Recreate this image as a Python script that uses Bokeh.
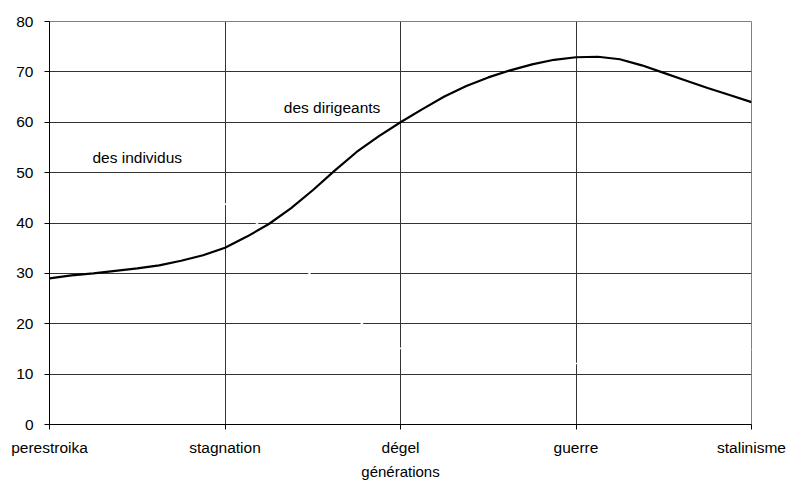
from bokeh.plotting import figure
from bokeh.models import Range1d, FixedTicker
from bokeh.embed import file_html
from bokeh.resources import INLINE
from bokeh.core.properties import value

# Categories on the x axis (générations)
categories = ["perestroika", "stagnation", "dégel", "guerre", "stalinisme"]
y_ticks = [0, 10, 20, 30, 40, 50, 60, 70, 80]

# "des dirigeants" curve (x in category units)
dirigeants_x = [0, 0.125, 0.25, 0.375, 0.5, 0.625, 0.75, 0.875, 1.0, 1.125, 1.25, 1.375,
                1.5, 1.625, 1.75, 1.875, 2.0, 2.125, 2.25, 2.375, 2.5, 2.625, 2.75, 2.875,
                3.0, 3.125, 3.25, 3.375, 3.5, 3.625, 3.75, 3.875, 4.0]
dirigeants_y = [29.0, 29.6, 30.0, 30.5, 31.0, 31.6, 32.5, 33.6, 35.1, 37.3, 39.8, 42.9,
                46.5, 50.4, 54.1, 57.2, 60.0, 62.6, 65.1, 67.2, 68.9, 70.3, 71.5, 72.4,
                72.9, 73.0, 72.5, 71.3, 69.8, 68.3, 66.8, 65.4, 64.0]

# "des individus" curve (drawn in white in the original, only visible over gridlines)
individus_x = [0, 1.0, 1.18, 1.48, 1.78, 2.0, 3.0, 4.0]
individus_y = [46.8, 43.8, 40.0, 30.0, 20.0, 15.1, 12.1, 14.9]

# Series labels
label_text = ["des individus", "des dirigeants"]
label_x = [0.50, 1.61]
label_y = [53.0, 62.9]

FONT = "Liberation Sans"

p = figure(width=787, height=483, output_backend="svg", toolbar_location=None,
           x_range=Range1d(0, 4), y_range=Range1d(0, 80),
           min_border_left=49, min_border_right=36, min_border_top=21, min_border_bottom=59)

p.background_fill_color = "white"
p.border_fill_color = "white"
p.outline_line_color = "#808080"
p.outline_line_width = 1

tick_pos = list(range(len(categories)))
p.xaxis.ticker = FixedTicker(ticks=tick_pos)
p.xaxis.major_label_overrides = {i: c for i, c in enumerate(categories)}
p.yaxis.ticker = FixedTicker(ticks=y_ticks)
p.xgrid.ticker = FixedTicker(ticks=tick_pos)
p.ygrid.ticker = FixedTicker(ticks=y_ticks)

for g in (p.xgrid, p.ygrid):
    g.grid_line_color = "#333333"
    g.grid_line_width = 1

for ax in (p.xaxis, p.yaxis):
    ax.axis_line_color = "black"
    ax.major_tick_line_color = "black"
    ax.major_tick_out = 5
    ax.major_tick_in = 0
    ax.minor_tick_line_color = None
    ax.major_label_text_font = FONT
    ax.major_label_text_font_size = "15.5px"
    ax.major_label_text_color = "black"

p.yaxis.major_label_standoff = 11
p.xaxis.major_label_standoff = 9
p.xaxis.axis_label = "générations"
p.xaxis.axis_label_text_font = FONT
p.xaxis.axis_label_text_font_size = "15px"
p.xaxis.axis_label_text_font_style = "normal"
p.xaxis.axis_label_text_color = "black"
p.xaxis.axis_label_standoff = 4

p.line(individus_x, individus_y, line_color="white", line_width=1.5)
p.line(dirigeants_x, dirigeants_y, line_color="black", line_width=2.2)

p.text(x=label_x, y=label_y, text=label_text, text_font=value(FONT),
       text_font_size="15.5px", text_color="black", text_align="center", text_baseline="middle")

open("out.html", "w").write(file_html(p, INLINE))
